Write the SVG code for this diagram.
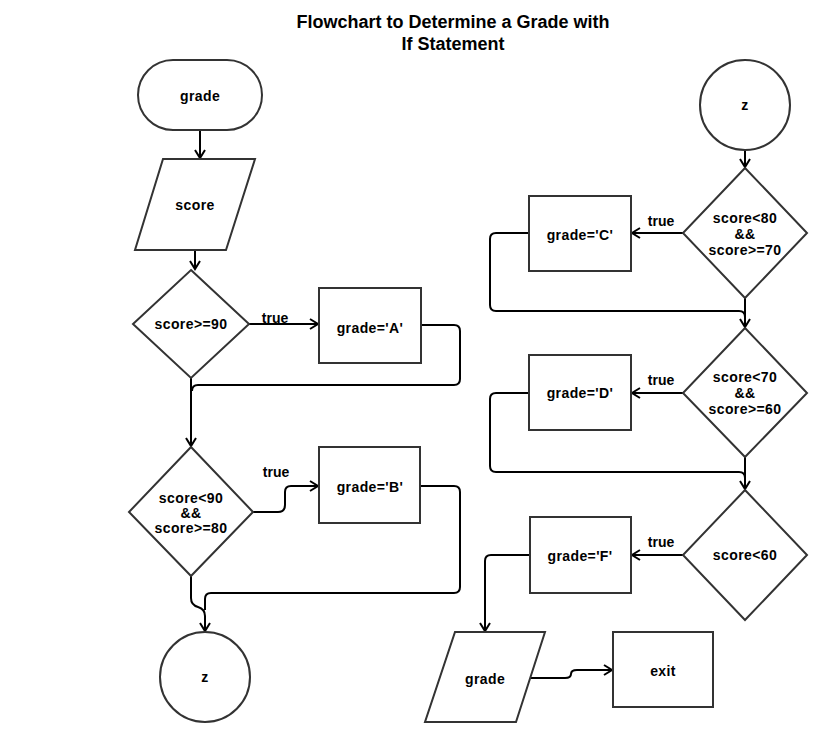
<svg xmlns="http://www.w3.org/2000/svg" width="826" height="742" viewBox="0 0 826 742">
<style>
.s{fill:#fff;stroke:#333;stroke-width:2}
.c{fill:none;stroke:#000;stroke-width:2}
text{font-family:"Liberation Sans",Arial,sans-serif;font-weight:bold;fill:#000;text-anchor:middle}
.t{font-size:14px;letter-spacing:0.4px}
.l{font-size:14px}
.ti{font-size:18px}
</style>
<defs>
<marker id="a" markerUnits="userSpaceOnUse" markerWidth="20" markerHeight="20" refX="0" refY="0" viewBox="-10 -10 20 20" orient="auto" overflow="visible">
<path d="M-8,-5 L0,0 L-8,5" fill="none" stroke="#000" stroke-width="2"/>
</marker>
</defs>
<rect width="826" height="742" fill="#fff"/>
<text class="ti" x="453" y="28">Flowchart to Determine a Grade with</text>
<text class="ti" x="453" y="50">If Statement</text>

<g id="connectors">
<path class="c" d="M200,130 L200,158" marker-end="url(#a)"/>
<path class="c" d="M195,250 L195,269" marker-end="url(#a)"/>
<path class="c" d="M249,324 L318,324" marker-end="url(#a)"/>
<path class="c" d="M421,325 L454,325 Q460,325 460,331 L460,379 Q460,385 454,385 L198,385 Q192,385 192,391"/>
<path class="c" d="M191,378 L191,446" marker-end="url(#a)"/>
<path class="c" d="M253,512 L278,512 Q285,512 285,505 L285,492 Q285,486 291,486 L318,486" marker-end="url(#a)"/>
<path class="c" d="M420,486 L454,486 Q460,486 460,492 L460,587 Q460,593 454,593 L211,593 Q205,593 205,599 L205,610"/>
<path class="c" d="M191,576 L191,598 Q191,605 198,607 Q205,609 205,616 L205,631" marker-end="url(#a)"/>
<path class="c" d="M745,150 L745,167" marker-end="url(#a)"/>
<path class="c" d="M683,233 L632,233" marker-end="url(#a)"/>
<path class="c" d="M529,233 L496,233 Q490,233 490,239 L490,305 Q490,311 496,311 L739,311 Q745,311 745,317"/>
<path class="c" d="M745,298 L745,327" marker-end="url(#a)"/>
<path class="c" d="M683,393 L632,393" marker-end="url(#a)"/>
<path class="c" d="M529,393 L496,393 Q490,393 490,399 L490,466 Q490,472 496,472 L739,472 Q745,472 745,478"/>
<path class="c" d="M745,457 L745,489" marker-end="url(#a)"/>
<path class="c" d="M683,555 L632,555" marker-end="url(#a)"/>
<path class="c" d="M530,555 L491,555 Q485,555 485,561 L485,631" marker-end="url(#a)"/>
<path class="c" d="M531,678 L565,678 Q571,678 571,674 Q571,670 577,670 L612,670" marker-end="url(#a)"/>
<text class="l" x="275" y="323">true</text>
<text class="l" x="276" y="477">true</text>
<text class="l" x="661" y="226">true</text>
<text class="l" x="661" y="385">true</text>
<text class="l" x="661" y="547">true</text>
</g>

<g id="start"><rect class="s" x="138" y="60" width="124" height="70" rx="35"/><text class="t" x="200" y="101">grade</text></g>
<g id="input-score"><polygon class="s" points="163,159 255,159 226,250 135,250"/><text class="t" x="195" y="210">score</text></g>
<g id="dec-a"><polygon class="s" points="191,270 249,324 191,378 133,324"/><text class="t" x="191" y="329">score&gt;=90</text></g>
<g id="grade-a"><rect class="s" x="319" y="288" width="102" height="75"/><text class="t" x="370" y="333">grade='A'</text></g>
<g id="dec-b"><polygon class="s" points="191,447 253,512 191,576 129,512"/><text class="t" x="191" y="503">score&lt;90</text><text class="t" x="191" y="518">&amp;&amp;</text><text class="t" x="191" y="533">score&gt;=80</text></g>
<g id="grade-b"><rect class="s" x="319" y="447" width="101" height="76"/><text class="t" x="370" y="492">grade='B'</text></g>
<g id="z1"><circle class="s" cx="205" cy="677" r="45"/><text class="t" x="205" y="682">z</text></g>

<g id="z2"><circle class="s" cx="745" cy="105" r="45"/><text class="t" x="745" y="110">z</text></g>
<g id="dec-c"><polygon class="s" points="745,168 807,233 745,298 683,233"/><text class="t" x="745" y="223">score&lt;80</text><text class="t" x="745" y="239">&amp;&amp;</text><text class="t" x="745" y="255">score&gt;=70</text></g>
<g id="grade-c"><rect class="s" x="529" y="196" width="102" height="75"/><text class="t" x="580" y="240">grade='C'</text></g>
<g id="dec-d"><polygon class="s" points="745,328 807,393 745,457 683,393"/><text class="t" x="745" y="382">score&lt;70</text><text class="t" x="745" y="398">&amp;&amp;</text><text class="t" x="745" y="414">score&gt;=60</text></g>
<g id="grade-d"><rect class="s" x="529" y="355" width="102" height="75"/><text class="t" x="580" y="398">grade='D'</text></g>
<g id="dec-f"><polygon class="s" points="745,490 807,555 745,620 683,555"/><text class="t" x="745" y="560">score&lt;60</text></g>
<g id="grade-f"><rect class="s" x="530" y="517" width="101" height="76"/><text class="t" x="580" y="561">grade='F'</text></g>
<g id="output-grade"><polygon class="s" points="455,632 545,632 516,722 425,722"/><text class="t" x="485" y="684">grade</text></g>
<g id="exit"><rect class="s" x="613" y="632" width="100" height="75"/><text class="t" x="663" y="676">exit</text></g>
</svg>
